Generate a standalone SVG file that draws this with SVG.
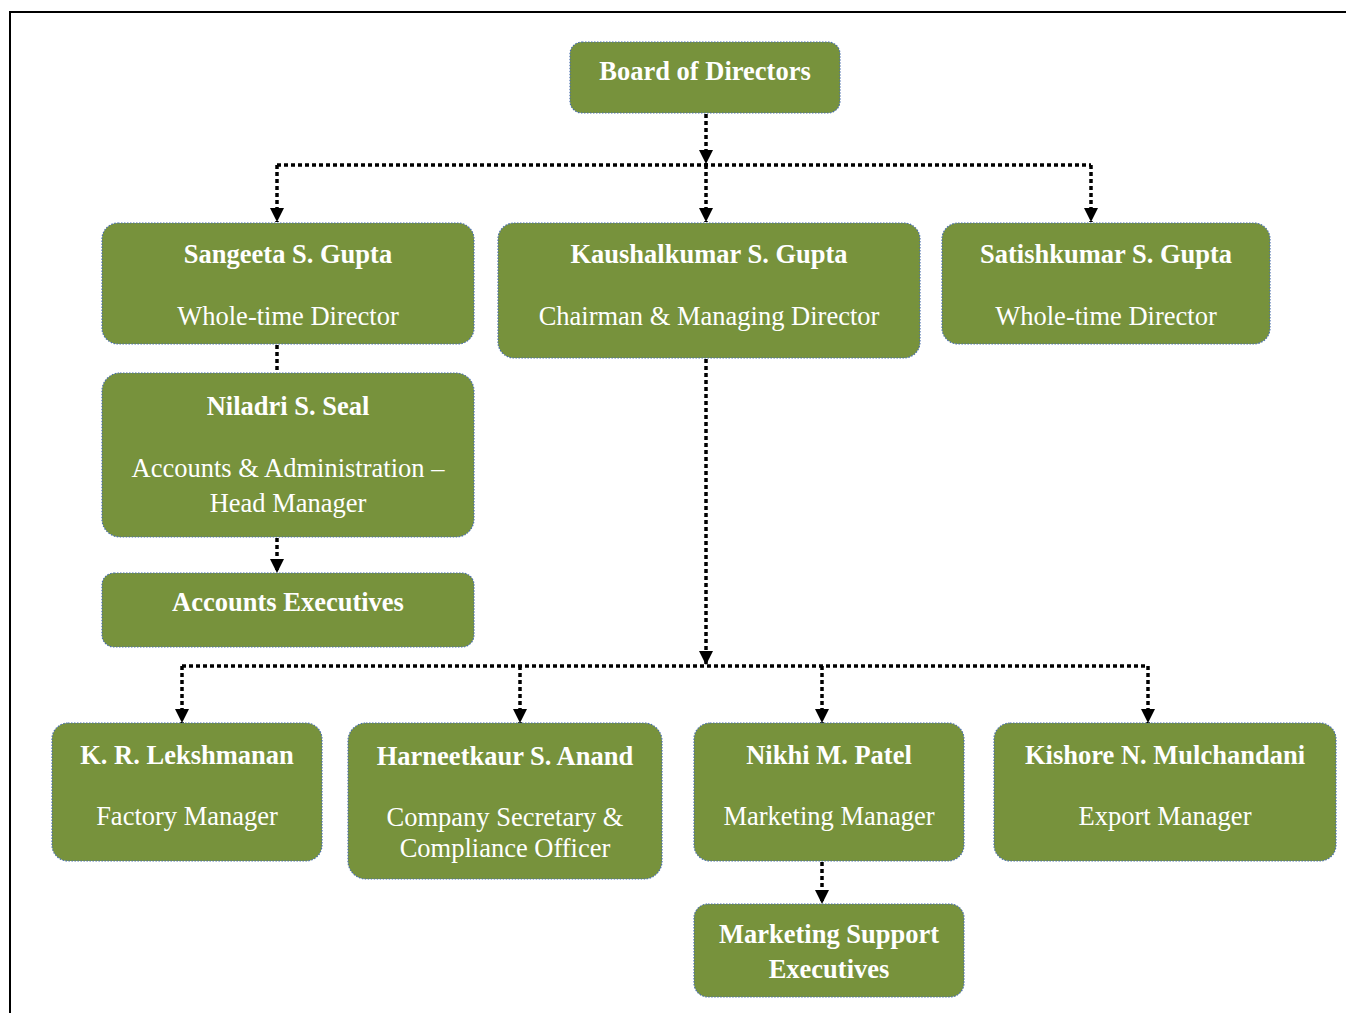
<svg xmlns="http://www.w3.org/2000/svg" width="1346" height="1013" viewBox="0 0 1346 1013">
<defs>
<marker id="ah" viewBox="0 0 14 14" refX="14" refY="7" markerWidth="14" markerHeight="14" markerUnits="userSpaceOnUse" orient="auto">
<path d="M0,0 L14,7 L0,14 Z" fill="#000"/>
</marker>
<style>
.box{fill:#77923C;stroke:#4A6FAE;stroke-width:1.2;stroke-dasharray:1.5 1.5}
.c{fill:none;stroke:#000;stroke-width:3.5;stroke-dasharray:4 3}
text{font-family:"Liberation Serif","Times New Roman",serif;font-size:26.5px;fill:#fff;text-anchor:middle}
.b{font-weight:bold}
</style>
</defs>
<rect width="1346" height="1013" fill="#fff"/>
<path d="M10,1013 L10,12 L1346,12" fill="none" stroke="#000" stroke-width="2"/>
<g id="connectors">
<path class="c" d="M706,114 V164" marker-end="url(#ah)"/>
<path class="c" d="M277,165 H1091"/>
<path class="c" d="M706,165 V222" marker-end="url(#ah)"/>
<path class="c" d="M277,165 V222" marker-end="url(#ah)"/>
<path class="c" d="M1091,165 V222" marker-end="url(#ah)"/>
<path class="c" d="M277,345 V373"/>
<path class="c" d="M277,538 V573" marker-end="url(#ah)"/>
<path class="c" d="M706,359 V665" marker-end="url(#ah)"/>
<path class="c" d="M182,666 H1148"/>
<path class="c" d="M182,666 V723" marker-end="url(#ah)"/>
<path class="c" d="M520,666 V723" marker-end="url(#ah)"/>
<path class="c" d="M822,666 V723" marker-end="url(#ah)"/>
<path class="c" d="M1148,666 V723" marker-end="url(#ah)"/>
<path class="c" d="M822,862 V904" marker-end="url(#ah)"/>
</g>
<g id="board"><rect class="box" x="570" y="42" width="270" height="71" rx="12"/><text class="b" x="705" y="80">Board of Directors</text></g>
<g id="sangeeta"><rect class="box" x="102" y="223" width="372" height="121" rx="16"/><text class="b" x="288" y="263">Sangeeta S. Gupta</text><text x="288" y="325">Whole-time Director</text></g>
<g id="kaushal"><rect class="box" x="498" y="223" width="422" height="135" rx="16"/><text class="b" x="709" y="263">Kaushalkumar S. Gupta</text><text x="709" y="325">Chairman &amp; Managing Director</text></g>
<g id="satish"><rect class="box" x="942" y="223" width="328" height="121" rx="16"/><text class="b" x="1106" y="263">Satishkumar S. Gupta</text><text x="1106" y="325">Whole-time Director</text></g>
<g id="niladri"><rect class="box" x="102" y="373" width="372" height="164" rx="18"/><text class="b" x="288" y="415">Niladri S. Seal</text><text x="288" y="477">Accounts &amp; Administration –</text><text x="288" y="512">Head Manager</text></g>
<g id="accexec"><rect class="box" x="102" y="573" width="372" height="74" rx="12"/><text class="b" x="288" y="611">Accounts Executives</text></g>
<g id="lekshmanan"><rect class="box" x="52" y="723" width="270" height="138" rx="16"/><text class="b" x="187" y="764">K. R. Lekshmanan</text><text x="187" y="825">Factory Manager</text></g>
<g id="anand"><rect class="box" x="348" y="723" width="314" height="156" rx="18"/><text class="b" x="505" y="765">Harneetkaur S. Anand</text><text x="505" y="826">Company Secretary &amp;</text><text x="505" y="857">Compliance Officer</text></g>
<g id="patel"><rect class="box" x="694" y="723" width="270" height="138" rx="16"/><text class="b" x="829" y="764">Nikhi M. Patel</text><text x="829" y="825">Marketing Manager</text></g>
<g id="mulchandani"><rect class="box" x="994" y="723" width="342" height="138" rx="16"/><text class="b" x="1165" y="764">Kishore N. Mulchandani</text><text x="1165" y="825">Export Manager</text></g>
<g id="mktexec"><rect class="box" x="694" y="904" width="270" height="93" rx="14"/><text class="b" x="829" y="943">Marketing Support</text><text class="b" x="829" y="978">Executives</text></g>
</svg>
